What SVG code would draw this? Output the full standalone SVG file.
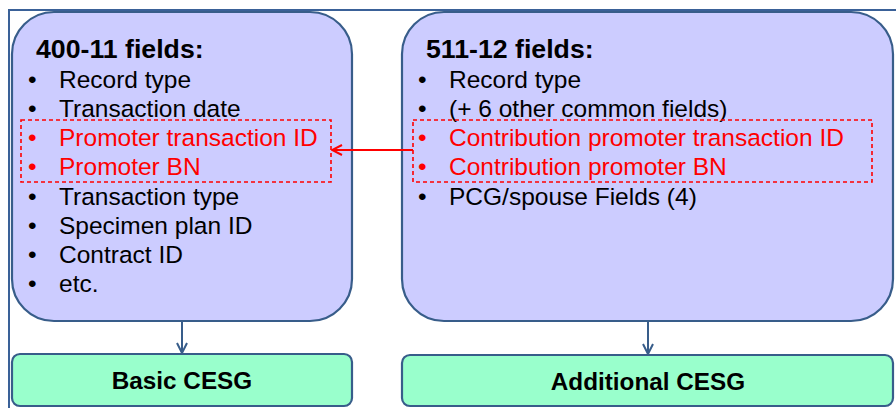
<svg xmlns="http://www.w3.org/2000/svg" width="896" height="408" viewBox="0 0 896 408">
<defs>
<style>
.frame{fill:none;stroke:#3a6198;stroke-width:2}
.big{fill:#ccccff;stroke:#385d8a;stroke-width:2.2}
.green{fill:#99ffcc;stroke:#385d8a;stroke-width:2.2}
.sel{fill:none;stroke:#ff0000;stroke-width:1.6;stroke-dasharray:4 3}
.title{font-family:"Liberation Sans",Arial,sans-serif;font-weight:bold;font-size:26.7px;fill:#000}
.item{font-family:"Liberation Sans",Arial,sans-serif;font-size:24.5px;fill:#000}
.red{fill:#ff0000}
.lbl{font-family:"Liberation Sans",Arial,sans-serif;font-weight:bold;font-size:24.3px;fill:#000;text-anchor:middle}
.conn{fill:none;stroke:#385d8a;stroke-width:2}
.rconn{fill:none;stroke:#ff0000;stroke-width:2}
</style>
<marker id="ah" viewBox="0 0 12 12" refX="11" refY="6" markerWidth="12" markerHeight="12" markerUnits="userSpaceOnUse" orient="auto">
<path d="M1,1 L11,6 L1,11" fill="none" stroke="#385d8a" stroke-width="2"/>
</marker>
<marker id="ahr" viewBox="0 0 12 12" refX="11" refY="6" markerWidth="12" markerHeight="12" markerUnits="userSpaceOnUse" orient="auto">
<path d="M1,1 L11,6 L1,11" fill="none" stroke="#ff0000" stroke-width="2"/>
</marker>
</defs>
<rect x="0" y="0" width="896" height="408" fill="#ffffff"/>
<rect class="frame" x="9" y="10" width="900" height="410"/>

<g id="box400">
<rect class="big" x="12" y="12" width="340" height="309" rx="42" ry="42"/>
<text class="title" x="36" y="58">400-11 fields:</text>
<g class="item">
<text x="28" y="88">•</text><text x="59" y="88">Record type</text>
<text x="28" y="117">•</text><text x="59" y="117">Transaction date</text>
<text x="28" y="146" class="red">•</text><text x="59" y="146" class="red">Promoter transaction ID</text>
<text x="28" y="175" class="red">•</text><text x="59" y="175" class="red">Promoter BN</text>
<text x="28" y="205">•</text><text x="59" y="205">Transaction type</text>
<text x="28" y="234">•</text><text x="59" y="234">Specimen plan ID</text>
<text x="28" y="263">•</text><text x="59" y="263">Contract ID</text>
<text x="28" y="292">•</text><text x="59" y="292">etc.</text>
</g>
<rect class="sel" x="21" y="120" width="310" height="62"/>
</g>

<g id="box511">
<rect class="big" x="402" y="12" width="491" height="309" rx="42" ry="42"/>
<text class="title" x="426" y="58">511-12 fields:</text>
<g class="item">
<text x="418" y="88">•</text><text x="449" y="88">Record type</text>
<text x="418" y="117">•</text><text x="449" y="117">(+ 6 other common fields)</text>
<text x="418" y="146" class="red">•</text><text x="449" y="146" class="red">Contribution promoter transaction ID</text>
<text x="418" y="175" class="red">•</text><text x="449" y="175" class="red">Contribution promoter BN</text>
<text x="418" y="205">•</text><text x="449" y="205">PCG/spouse Fields (4)</text>
</g>
<rect class="sel" x="413" y="120" width="459" height="62"/>
</g>

<g id="basic">
<rect class="green" x="12" y="354" width="340" height="52" rx="8" ry="8"/>
<text class="lbl" x="182" y="389">Basic CESG</text>
</g>

<g id="additional">
<rect class="green" x="402" y="355" width="491" height="51" rx="8" ry="8"/>
<text class="lbl" x="648" y="390">Additional CESG</text>
</g>

<g id="connectors">
<line class="conn" x1="182" y1="322" x2="182" y2="353" marker-end="url(#ah)"/>
<line class="conn" x1="648" y1="322" x2="648" y2="354" marker-end="url(#ah)"/>
<line class="rconn" x1="413" y1="150" x2="332" y2="150" marker-end="url(#ahr)"/>
</g>
</svg>
